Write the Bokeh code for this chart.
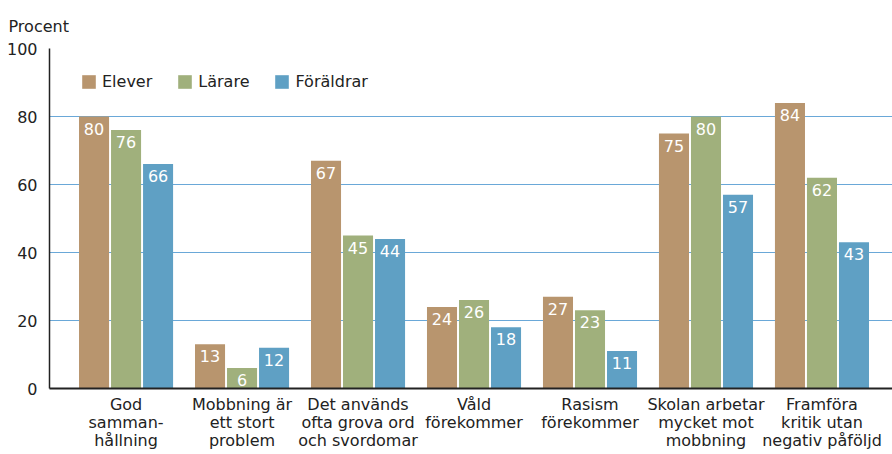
from bokeh.plotting import figure
from bokeh.models import ColumnDataSource, Range1d, FixedTicker, Legend, LegendItem, LabelSet
from bokeh.core.properties import value
from bokeh.embed import file_html
from bokeh.resources import INLINE

categories = ["God\nsamman-\nhållning", "Mobbning är\nett stort\nproblem", "Det används\nofta grova ord\noch svordomar",
              "Våld\nförekommer", "Rasism\nförekommer", "Skolan arbetar\nmycket mot\nmobbning", "Framföra\nkritik utan\nnegativ påföljd"]
series_names = ["Elever", "Lärare", "Föräldrar"]
elever = [80, 13, 67, 24, 27, 75, 84]
larare = [76, 6, 45, 26, 23, 80, 62]
foraldrar = [66, 12, 44, 18, 11, 57, 43]
y_ticks = [0, 20, 40, 60, 80, 100]
y_unit_label = "Procent"

colors = ["#b8956e", "#a0b07c", "#5fa0c4"]
FONT = "DejaVu Sans"
TXT = "#222222"

x_start, x_end = -0.66, 6.608
y_start, y_end = 0, 100

p = figure(width=892, height=454, output_backend="svg", toolbar_location=None,
           x_range=Range1d(x_start, x_end), y_range=Range1d(y_start, y_end),
           min_border_left=49, min_border_right=0, min_border_top=48, min_border_bottom=66)
p.outline_line_color = None
p.background_fill_color = "white"

offsets = [-0.276, 0.0, 0.276]
all_series = [elever, larare, foraldrar]
renderers = []
for k, (vals, col) in enumerate(zip(all_series, colors)):
    xs = [i + offsets[k] for i in range(len(categories))]
    src = ColumnDataSource(dict(x=xs, top=vals, lab=[str(v) for v in vals]))
    r = p.vbar(x="x", top="top", bottom=0, width=0.259, source=src, fill_color=col, line_color=None)
    renderers.append(r)
    lbl = LabelSet(x="x", y="top", text="lab", source=src, text_align="center", text_baseline="top",
                   y_offset=-6, text_color="white", text_font=value(FONT), text_font_size="16px")
    p.add_layout(lbl)

# grid
p.xgrid.grid_line_color = None
p.ygrid.grid_line_color = "#6aa8d8"
p.ygrid.grid_line_width = 1.2
p.ygrid.ticker = FixedTicker(ticks=y_ticks)

# axes
p.yaxis.ticker = FixedTicker(ticks=y_ticks)
p.yaxis.major_tick_line_color = None
p.yaxis.minor_tick_line_color = None
p.yaxis.axis_line_color = TXT
p.yaxis.axis_line_width = 1.5
p.yaxis.major_label_standoff = 6
p.yaxis.major_label_text_font = FONT
p.yaxis.major_label_text_font_size = "16px"
p.yaxis.major_label_text_color = TXT

p.xaxis.ticker = FixedTicker(ticks=list(range(len(categories))))
p.xaxis.major_label_overrides = {i: c for i, c in enumerate(categories)}
p.xaxis.major_tick_line_color = None
p.xaxis.minor_tick_line_color = None
p.xaxis.axis_line_color = TXT
p.xaxis.axis_line_width = 2
p.xaxis.major_label_standoff = 0
p.xaxis.major_label_text_font = FONT
p.xaxis.major_label_text_font_size = "16px"
p.xaxis.major_label_text_color = TXT
p.xaxis.major_label_text_line_height = 0.97

p.title.text = y_unit_label
p.title.text_font = FONT
p.title.text_font_size = "16px"
p.title.text_font_style = "normal"
p.title.text_color = TXT
p.title.offset = -41
p.title.standoff = 25

legend = Legend(items=[LegendItem(label=n, renderers=[r]) for n, r in zip(series_names, renderers)],
                orientation="horizontal", location=(31, 297), padding=0, margin=0, spacing=24,
                glyph_width=17, glyph_height=17, label_height=17, label_standoff=5,
                label_text_font=FONT, label_text_font_size="16px", label_text_color=TXT,
                border_line_color=None, background_fill_alpha=0)
p.add_layout(legend)

open("out.html", "w").write(file_html(p, INLINE))
